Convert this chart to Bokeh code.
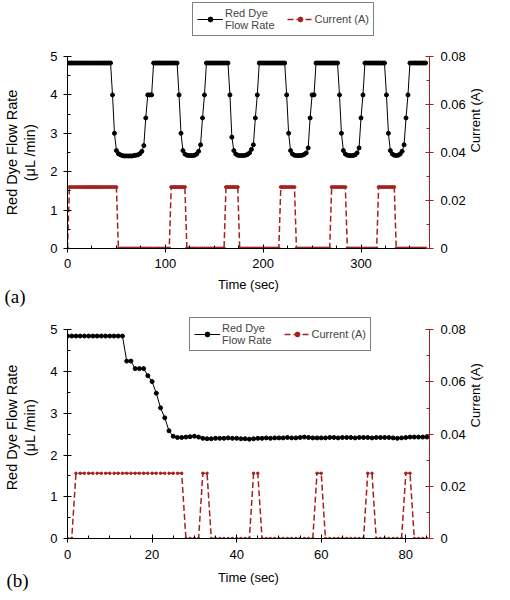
import math
from bokeh.plotting import figure
from bokeh.models import (Range1d, LinearAxis, Legend, LegendItem, SingleIntervalTicker,
                          Title, NumeralTickFormatter)
from bokeh.layouts import column
from bokeh.embed import file_html
from bokeh.resources import INLINE

FONT = "Liberation Sans"
RED = "#A3211F"

# ---------------- Panel (a): 2-s sampling ----------------
time_a = list(range(0, 368, 2))
flow_a = [
    4.83, 4.83, 4.83, 4.83, 4.83, 4.83, 4.83, 4.83, 4.83, 4.83,
    4.83, 4.83, 4.83, 4.83, 4.83, 4.83, 4.83, 4.83, 4.83, 4.83,
    4.83, 4.83, 4.83,
    4.0, 3.0, 2.55, 2.47, 2.44, 2.42, 2.41, 2.41, 2.41, 2.41, 2.41, 2.42, 2.43, 2.44, 2.47, 2.53, 2.68, 3.4, 4.0, 4.0, 4.0,
    4.83, 4.83, 4.83, 4.83, 4.83, 4.83, 4.83, 4.83, 4.83, 4.83, 4.83, 4.83, 4.83,
    4.0, 3.0, 2.55, 2.46, 2.43, 2.42, 2.42, 2.42, 2.43, 2.46, 2.53, 2.7, 3.4, 4.0,
    4.83, 4.83, 4.83, 4.83, 4.83, 4.83, 4.83, 4.83, 4.83, 4.83, 4.83, 4.83,
    4.0, 2.9, 2.55, 2.46, 2.43, 2.42, 2.42, 2.42, 2.43, 2.45, 2.49, 2.58, 2.7, 3.4, 4.0,
    4.83, 4.83, 4.83, 4.83, 4.83, 4.83, 4.83, 4.83, 4.83, 4.83, 4.83, 4.83, 4.83, 4.83,
    4.0, 3.0, 2.55, 2.46, 2.43, 2.42, 2.42, 2.42, 2.43, 2.45, 2.49, 2.62, 3.4, 4.0, 4.0,
    4.83, 4.83, 4.83, 4.83, 4.83, 4.83, 4.83, 4.83, 4.83, 4.83, 4.83, 4.83,
    4.0, 3.0, 2.55, 2.46, 2.43, 2.42, 2.42, 2.42, 2.44, 2.49, 2.62, 3.4, 4.0,
    4.83, 4.83, 4.83, 4.83, 4.83, 4.83, 4.83, 4.83, 4.83, 4.83, 4.83,
    4.0, 3.0, 2.55, 2.46, 2.43, 2.42, 2.43, 2.46, 2.53, 2.7, 3.4, 4.0,
    4.83, 4.83, 4.83, 4.83, 4.83, 4.83, 4.83, 4.83, 4.83,
]
current_a = [
    0,
    0.0256, 0.0256, 0.0256, 0.0256, 0.0256, 0.0256, 0.0256, 0.0256, 0.0256, 0.0256,
    0.0256, 0.0256, 0.0256, 0.0256, 0.0256, 0.0256, 0.0256, 0.0256, 0.0256, 0.0256,
    0.0256, 0.0256, 0.0256, 0.0256, 0.0256,
    0, 0, 0, 0, 0, 0, 0, 0, 0, 0, 0, 0, 0, 0, 0, 0, 0, 0, 0, 0, 0, 0, 0, 0, 0, 0, 0,
    0.0256, 0.0256, 0.0256, 0.0256, 0.0256, 0.0256, 0.0256, 0.0256,
    0, 0, 0, 0, 0, 0, 0, 0, 0, 0, 0, 0, 0, 0, 0, 0, 0, 0, 0, 0,
    0.0256, 0.0256, 0.0256, 0.0256, 0.0256, 0.0256, 0.0256,
    0, 0, 0, 0, 0, 0, 0, 0, 0, 0, 0, 0, 0, 0, 0, 0, 0, 0, 0, 0, 0,
    0.0256, 0.0256, 0.0256, 0.0256, 0.0256, 0.0256, 0.0256, 0.0256,
    0, 0, 0, 0, 0, 0, 0, 0, 0, 0, 0, 0, 0, 0, 0, 0, 0, 0,
    0.0256, 0.0256, 0.0256, 0.0256, 0.0256, 0.0256, 0.0256, 0.0256,
    0, 0, 0, 0, 0, 0, 0, 0, 0, 0, 0, 0, 0, 0, 0, 0,
    0.0256, 0.0256, 0.0256, 0.0256, 0.0256, 0.0256, 0.0256, 0.0256, 0.0256,
    0, 0, 0, 0, 0, 0, 0, 0, 0, 0, 0, 0, 0, 0, 0, 0,
]

# ---------------- Panel (b): 1-s sampling ----------------
time_b = list(range(0, 86))
flow_b = [
    4.85, 4.85, 4.85, 4.85, 4.85, 4.85, 4.85, 4.85, 4.85, 4.85, 4.85, 4.85, 4.85, 4.85,
    4.25, 4.25, 4.07, 4.07, 4.07, 3.9, 3.76, 3.48, 3.13, 2.89, 2.58, 2.45,
    2.42, 2.42, 2.43, 2.44, 2.45, 2.43, 2.40, 2.39, 2.39, 2.40,
    2.40, 2.40, 2.41, 2.40, 2.40, 2.39, 2.39, 2.38, 2.39, 2.40,
    2.40, 2.41, 2.40, 2.41, 2.41, 2.41, 2.42, 2.41, 2.41, 2.42,
    2.43, 2.42, 2.41, 2.41, 2.41, 2.41, 2.42, 2.42, 2.41, 2.42,
    2.42, 2.42, 2.41, 2.42, 2.42, 2.42, 2.41, 2.42, 2.42, 2.42,
    2.42, 2.41, 2.40, 2.41, 2.42, 2.43, 2.43, 2.43, 2.43, 2.43,
]
current_b = [
    0, 0,
    0.025, 0.025, 0.025, 0.025, 0.025, 0.025, 0.025, 0.025, 0.025, 0.025, 0.025, 0.025, 0.025,
    0.025, 0.025, 0.025, 0.025, 0.025, 0.025, 0.025, 0.025, 0.025, 0.025, 0.025, 0.025, 0.025,
    0, 0, 0, 0,
    0.025, 0.025,
    0, 0, 0, 0, 0, 0, 0, 0, 0, 0,
    0.025, 0.025,
    0, 0, 0, 0, 0, 0, 0, 0, 0, 0, 0, 0, 0,
    0.025, 0.025,
    0, 0, 0, 0, 0, 0, 0, 0, 0, 0,
    0.025, 0.025,
    0, 0, 0, 0, 0, 0, 0,
    0.025, 0.025,
    0, 0, 0, 0,
]

assert len(flow_a) == len(time_a) == len(current_a)
assert len(flow_b) == len(time_b) == len(current_b)

flow_label = "Red Dye\nFlow Rate"
current_label = "Current (A)"
x_title = "Time (sec)"
y_title = "Red Dye Flow Rate\n(\u03bcL /min)"
y2_title = "Current (A)"


def make_panel(t, flow, cur, x_end, x_major, y_end, height, borders, legend_side,
               legend_xy, tag, tag_offset, tag_standoff, cur_size, std):
    p = figure(width=494, height=height,
               x_range=Range1d(0, x_end), y_range=Range1d(0, y_end),
               output_backend="svg", toolbar_location=None,
               min_border_left=borders[0], min_border_right=borders[1],
               min_border_top=borders[2], min_border_bottom=borders[3])
    p.extra_y_ranges = {"cur": Range1d(0, y_end * 0.016)}
    p.outline_line_color = None
    p.xgrid.visible = False
    p.ygrid.visible = False
    p.background_fill_color = "white"
    p.border_fill_color = "white"

    xa = p.xaxis[0]
    xa.ticker = SingleIntervalTicker(interval=x_major, num_minor_ticks=4)
    xa.axis_label = x_title
    ya = p.yaxis[0]
    ya.ticker = SingleIntervalTicker(interval=1, num_minor_ticks=2)
    ya.axis_label = y_title
    ya.bounds = (0, 5)
    ra = LinearAxis(y_range_name="cur",
                    ticker=SingleIntervalTicker(interval=0.02, num_minor_ticks=2),
                    formatter=NumeralTickFormatter(format="0.[00]"),
                    axis_label=y2_title, bounds=(0, 0.08))
    p.add_layout(ra, "right")
    for ax in (xa, ya, ra):
        ax.major_label_text_font = FONT
        ax.major_label_text_font_size = "13px"
        ax.major_label_text_color = "black"
        ax.axis_label_text_font = FONT
        ax.axis_label_text_font_style = "normal"
        ax.axis_label_text_font_size = "13px"
        ax.axis_label_text_color = "black"
        ax.major_tick_in = 4
        ax.major_tick_out = 4
        ax.minor_tick_in = 3
        ax.minor_tick_out = 0
    ya.axis_label_text_font_size = "14.5px"
    ya.axis_label_text_line_height = 1.15
    xa.major_label_standoff = std[0]
    xa.axis_label_standoff = std[1]
    ya.major_label_standoff = 6
    ya.axis_label_standoff = 9
    ra.major_label_standoff = 7
    ra.axis_label_standoff = 7
    ra.axis_line_color = RED
    ra.major_tick_line_color = RED
    ra.minor_tick_line_color = RED
    ra.axis_label_orientation = math.pi / 2

    fl = p.line(t, flow, line_color="black", line_width=1)
    fm = p.scatter(t, flow, marker="circle", size=4, color="black")
    cl = p.line(t, cur, y_range_name="cur", line_color=RED, line_width=1.5, line_dash="6 3")
    cm = p.scatter(t, cur, y_range_name="cur", marker="circle", size=cur_size, color=RED)

    leg = Legend(items=[LegendItem(label=flow_label, renderers=[fl, fm]),
                        LegendItem(label=current_label, renderers=[cl, cm])],
                 orientation="horizontal", location=legend_xy,
                 label_text_font=FONT, label_text_font_size="11px",
                 label_text_line_height=1.1,
                 glyph_width=26, glyph_height=12, label_standoff=2, spacing=12,
                 padding=4, margin=0, border_line_color="black", border_line_width=1,
                 background_fill_color="white", background_fill_alpha=1.0)
    p.add_layout(leg, legend_side)

    p.add_layout(Title(text=tag, align="left", offset=tag_offset, standoff=tag_standoff,
                       vertical_align="top", text_font="Liberation Serif",
                       text_font_size="19px", text_font_style="normal",
                       text_color="black"), "below")
    return p


pa = make_panel(time_a, flow_a, current_a, 370, 100, 5, 308, (60, 65, 56, 60), "above",
                (125, 9), "(a)", -63, -18, 3, (6, 6))
pb = make_panel(time_b, flow_b, current_b, 85.6, 20, 5.3186, 284, (60, 63, 8, 54), "center",
                (122, 187), "(b)", -61, -36, 2.5, (7, 8))

layout = column(pa, pb)
open("out.html", "w").write(file_html(layout, INLINE))
